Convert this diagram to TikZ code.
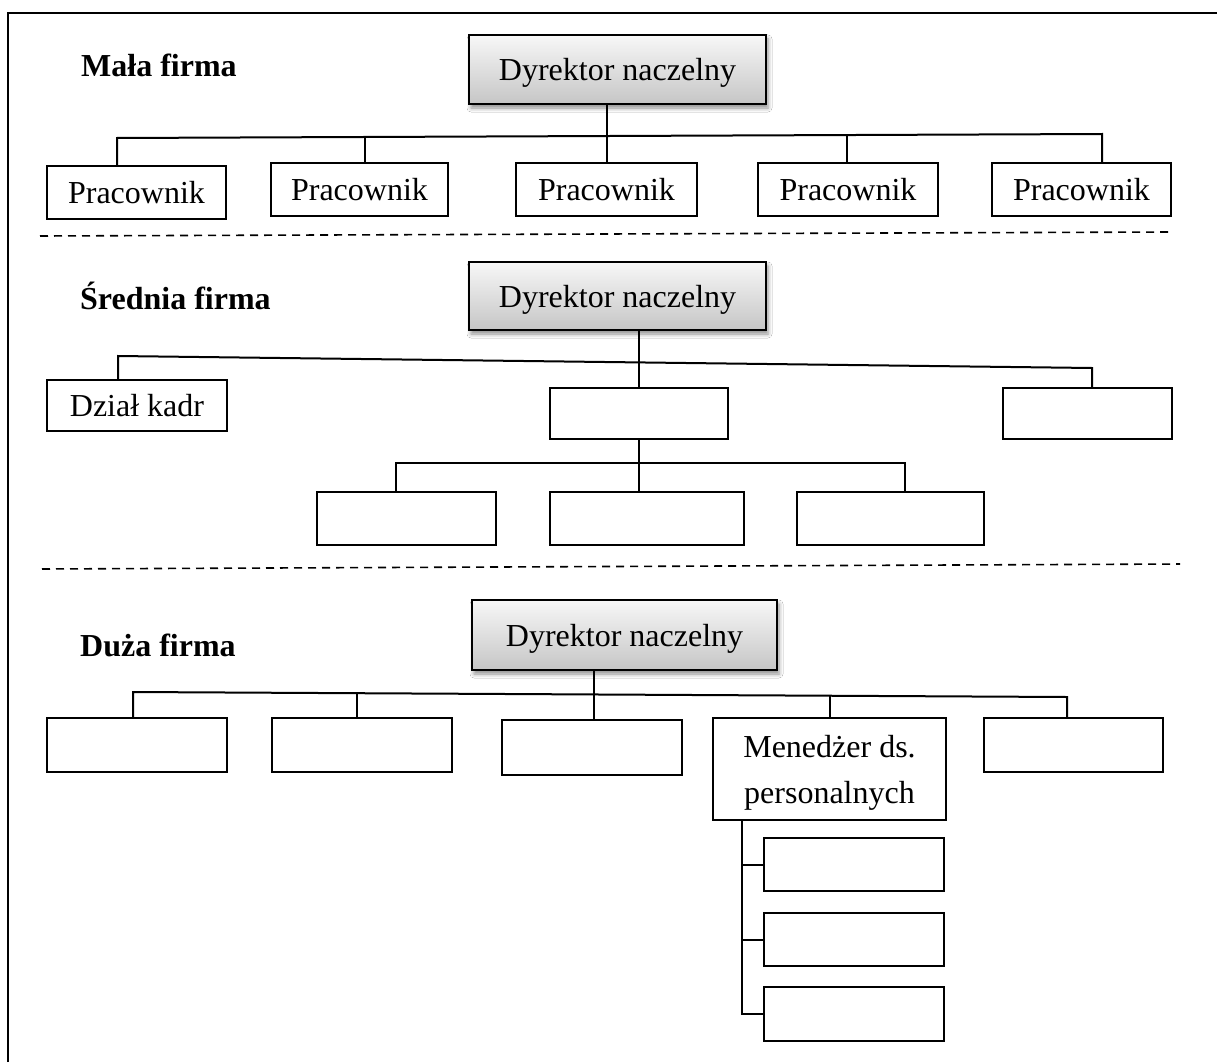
\documentclass[tikz,border=0pt]{standalone}
\usepackage{fontspec}
\setmainfont{Liberation Serif}
\usetikzlibrary{shadows.blur,calc}

\tikzset{
  unit/.style={draw=black, line width=1.3pt, fill=white, inner sep=0pt,
    font=\fontsize{32}{46}\selectfont, align=center, text depth=0pt},
  chief/.style={unit, line width=1.8pt, top color=gray!6, bottom color=gray!45,
    blur shadow={shadow xshift=2pt, shadow yshift=-4pt,
      shadow blur radius=4pt, shadow opacity=45}},
  link/.style={draw=black, line width=2pt},
  divider/.style={draw=black, line width=1.6pt, dash pattern=on 8pt off 6pt},
  title/.style={font=\fontsize{32}{36}\selectfont\bfseries, anchor=base west, inner sep=0pt},
}

\begin{document}
\begin{tikzpicture}[x=1pt, y=-1pt]
  \useasboundingbox (0,0) rectangle (1217,1062);
  \fill[white] (0,0) rectangle (1217,1062);

  % outer frame
  \draw[line width=2pt] (8,1062) -- (8,13) -- (1217,13);

  % ---------- small company ----------
  \node[title] (lab1) at (81,77) {Mała firma};
  \node[chief, minimum width=297pt, minimum height=69pt] (dir1) at (617.5,69.5) {Dyrektor naczelny};
  \node[unit, minimum width=179pt, minimum height=53pt] (p1) at (136.5,192.5) {Pracownik};
  \node[unit, minimum width=177pt, minimum height=53pt] (p2) at (359.5,189.5) {Pracownik};
  \node[unit, minimum width=181pt, minimum height=53pt] (p3) at (606.5,189.5) {Pracownik};
  \node[unit, minimum width=180pt, minimum height=53pt] (p4) at (848,189.5) {Pracownik};
  \node[unit, minimum width=179pt, minimum height=53pt] (p5) at (1081.5,189.5) {Pracownik};

  \coordinate (bL1) at (117,138);
  \coordinate (bR1) at (1102,134);
  \coordinate (j12) at (365,137);
  \coordinate (j14) at (847,135);
  \draw[link] (p1.north -| bL1) -- (bL1) -- (bR1) -- (p5.north -| bR1);
  \draw[link] (j12) -- (j12 |- p2.north);
  \draw[link] (j14) -- (j14 |- p4.north);
  \draw[link] (dir1.south -| p3.north) -- (p3.north);

  \coordinate (dv1a) at (40,236);
  \coordinate (dv1b) at (1170,232);
  \draw[divider] (dv1a) -- (dv1b);

  % ---------- medium company ----------
  \node[title] (lab2) at (80,309) {Średnia firma};
  \node[chief, minimum width=297pt, minimum height=68pt] (dir2) at (617.5,296) {Dyrektor naczelny};
  \node[unit, minimum width=180pt, minimum height=51pt] (kadr) at (137,405.5) {Dział kadr};
  \node[unit, minimum width=178pt, minimum height=51pt] (mid) at (639,413.5) {};
  \node[unit, minimum width=169pt, minimum height=51pt] (rgt) at (1087.5,413.5) {};
  \node[unit, minimum width=179pt, minimum height=53pt] (s1) at (406.5,518.5) {};
  \node[unit, minimum width=194pt, minimum height=53pt] (s2) at (647,518.5) {};
  \node[unit, minimum width=187pt, minimum height=53pt] (s3) at (890.5,518.5) {};

  \coordinate (bL2) at (118,356);
  \coordinate (bR2) at (1092,368);
  \draw[link] (kadr.north -| bL2) -- (bL2) -- (bR2) -- (rgt.north -| bR2);
  \draw[link] (dir2.south -| mid.north) -- (mid.north);
  \coordinate (sL) at (396,463);
  \coordinate (sR) at (905,463);
  \draw[link] (s1.north -| sL) -- (sL) -- (sR) -- (s3.north -| sR);
  \draw[link] (mid.south) -- (mid.south |- s2.north);

  \coordinate (dv2a) at (42,569);
  \coordinate (dv2b) at (1180,564);
  \draw[divider] (dv2a) -- (dv2b);

  % ---------- large company ----------
  \node[title] (lab3) at (80,656) {Duża firma};
  \node[chief, minimum width=305pt, minimum height=70pt] (dir3) at (624.5,635) {Dyrektor naczelny};
  \node[unit, minimum width=180pt, minimum height=54pt] (q1) at (137,745) {};
  \node[unit, minimum width=180pt, minimum height=54pt] (q2) at (362,745) {};
  \node[unit, minimum width=180pt, minimum height=55pt] (q3) at (592,747.5) {};
  \node[unit, minimum width=233pt, minimum height=102pt] (mgr) at (829.5,769) {Menedżer ds.\\personalnych};
  \node[unit, minimum width=179pt, minimum height=54pt] (q5) at (1073.5,745) {};

  \coordinate (bL3) at (133,692);
  \coordinate (bR3) at (1067,697);
  \coordinate (j32) at (357,693.2);
  \coordinate (j33) at (594,694.5);
  \coordinate (j34) at (829.5,695.7);
  \draw[link] (q1.north -| bL3) -- (bL3) -- (bR3) -- (q5.north -| bR3);
  \draw[link] (j32) -- (j32 |- q2.north);
  \draw[link] (dir3.south -| j33) -- (j33 |- q3.north);
  \draw[link] (j34) -- (mgr.north);

  \node[unit, minimum width=180pt, minimum height=53pt] (m1) at (854,864.5) {};
  \node[unit, minimum width=180pt, minimum height=53pt] (m2) at (854,939.5) {};
  \node[unit, minimum width=180pt, minimum height=54pt] (m3) at (854,1014) {};

  \coordinate (spine) at (742,820);
  \draw[link] (spine) -- (spine |- m3.west) -- (m3.west);
  \draw[link] (spine |- m1.west) -- (m1.west);
  \draw[link] (spine |- m2.west) -- (m2.west);
\end{tikzpicture}
\end{document}
